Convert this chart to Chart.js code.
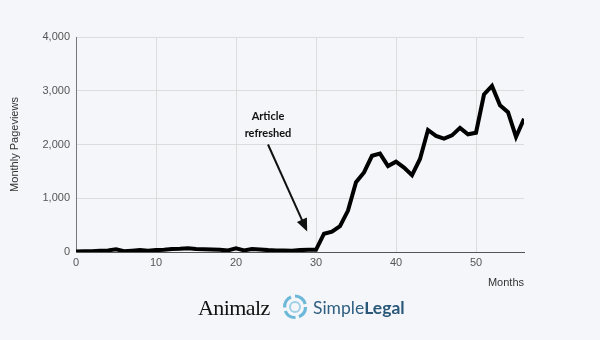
<!DOCTYPE html>
<html>
<head>
<meta charset="utf-8">
<script src="https://cdn.jsdelivr.net/npm/chart.js@4/dist/chart.umd.min.js"></script>
<style>
  html, body { margin: 0; padding: 0; background: #f5f6fa; }
  #wrap { position: relative; width: 600px; height: 340px; }
  #logos { position: absolute; left: 0; top: 293px; width: 600px; height: 32px; }
  .animalz { position: absolute; left: 198px; top: 2px; font-family: "Liberation Serif", "DejaVu Serif", serif; font-size: 22px; color: #111; letter-spacing: -0.6px; }
  .sl-icon { position: absolute; left: 282px; top: 0px; }
  .sl-text { position: absolute; left: 313px; top: 4px; font-family: Lato, "Open Sans", sans-serif; font-size: 17.5px; color: #2f5f80; }
  .sl-text b { font-weight: 700; color: #2a5878; }
</style>
</head>
<body>
<div id="wrap">
  <canvas id="chart" width="600" height="340"></canvas>
  <div id="logos">
    <span class="animalz">Animalz</span>
    <svg class="sl-icon" width="26" height="28" viewBox="0 0 26 28">
      <g fill="none" stroke="#6cb8d9" stroke-width="3.2">
        <path d="M13 3 A10.5 10.5 0 0 1 23.2 11"/>
        <path d="M23.5 14 A10.5 10.5 0 0 1 17 23.7"/>
        <path d="M13.5 24.5 A10.5 10.5 0 0 1 3.3 18"/>
        <path d="M2.6 14.5 A10.5 10.5 0 0 1 9 4"/>
      </g>
      <circle cx="13" cy="14" r="5" fill="none" stroke="#9fd0e6" stroke-width="2"/>
    </svg>
    <span class="sl-text">Simple<b>Legal</b></span>
  </div>
</div>
<script>
// months since publication
const months = [];
for (let m = 0; m <= 56; m++) months.push(m);

const pageviews = [
  10, 12, 15, 25, 30, 50, 15, 25, 35, 25,
  35, 40, 55, 60, 70, 55, 50, 45, 40, 30,
  70, 30, 55, 45, 35, 30, 30, 25, 35, 40,
  40, 340, 380, 480, 770, 1300, 1480, 1790, 1830, 1600,
  1680, 1570, 1430, 1730, 2270, 2160, 2110, 2170, 2310, 2190,
  2220, 2930, 3090, 2730, 2600, 2140, 2480
];

const yTicks = [0, 1000, 2000, 3000, 4000];
const xTicks = [0, 10, 20, 30, 40, 50];

// annotation text + arrow, in data units
const noteLines = ['Article', 'refreshed'];
const noteAt = { x: 24, y: 2520 };
const arrowFrom = { x: 24, y: 2000 };
const arrowTo = { x: 28.9, y: 380 };

const annotate = {
  id: 'annotate',
  afterDatasetsDraw(chart) {
    const c = chart.ctx;
    const xs = chart.scales.x, ys = chart.scales.y;
    c.save();
    c.fillStyle = '#111';
    c.font = 'bold 11px Lato, "Open Sans", sans-serif';
    c.textAlign = 'center';
    c.textBaseline = 'middle';
    const tx = xs.getPixelForValue(noteAt.x);
    const ty = ys.getPixelForValue(noteAt.y);
    noteLines.forEach((t, i) => c.fillText(t, tx, ty + i * 17));

    const x1 = xs.getPixelForValue(arrowFrom.x), y1 = ys.getPixelForValue(arrowFrom.y);
    const x2 = xs.getPixelForValue(arrowTo.x), y2 = ys.getPixelForValue(arrowTo.y);
    const ang = Math.atan2(y2 - y1, x2 - x1);
    const head = 14;
    c.strokeStyle = '#111';
    c.lineWidth = 2;
    c.beginPath();
    c.moveTo(x1, y1);
    c.lineTo(x2 - Math.cos(ang) * head * 0.8, y2 - Math.sin(ang) * head * 0.8);
    c.stroke();
    c.beginPath();
    c.moveTo(x2, y2);
    c.lineTo(x2 - head * Math.cos(ang - 0.4), y2 - head * Math.sin(ang - 0.4));
    c.lineTo(x2 - head * Math.cos(ang + 0.4), y2 - head * Math.sin(ang + 0.4));
    c.closePath();
    c.fill();
    c.restore();
  }
};

Chart.defaults.font.family = 'Arial, "Liberation Sans", sans-serif';
Chart.defaults.color = '#555';

new Chart(document.getElementById('chart'), {
  type: 'line',
  data: {
    datasets: [{
      data: months.map((m, i) => ({ x: m, y: pageviews[i] })),
      borderColor: '#000',
      borderWidth: 4,
      pointRadius: 0,
      tension: 0,
      fill: false
    }]
  },
  options: {
    responsive: false,
    animation: false,
    layout: { padding: { left: 8, right: 76, top: 37, bottom: 48 } },
    plugins: { legend: { display: false }, tooltip: { enabled: false } },
    scales: {
      x: {
        type: 'linear',
        min: 0,
        max: 56,
        afterFit(s) { s.height = 40; },
        afterBuildTicks(s) { s.ticks = xTicks.map(v => ({ value: v })); },
        ticks: { font: { size: 11 }, color: '#555', padding: 4 },
        grid: { color: '#dcdcdc', drawTicks: false },
        border: { color: '#555', width: 1 },
        title: { display: true, text: 'Months', align: 'end', font: { size: 11 }, color: '#333', padding: { top: 4, bottom: 2 } }
      },
      y: {
        min: 0,
        max: 4000,
        afterFit(s) { s.width = 68; },
        afterBuildTicks(s) { s.ticks = yTicks.map(v => ({ value: v })); },
        ticks: { font: { size: 11 }, color: '#555', padding: 6, callback: v => v.toLocaleString('en-US') },
        grid: { color: '#dcdcdc', drawTicks: false },
        border: { color: '#777', width: 1 },
        title: { display: true, text: 'Monthly Pageviews', font: { size: 11 }, color: '#333', padding: { top: 0, bottom: 4 } }
      }
    }
  },
  plugins: [annotate]
});
</script>
</body>
</html>
